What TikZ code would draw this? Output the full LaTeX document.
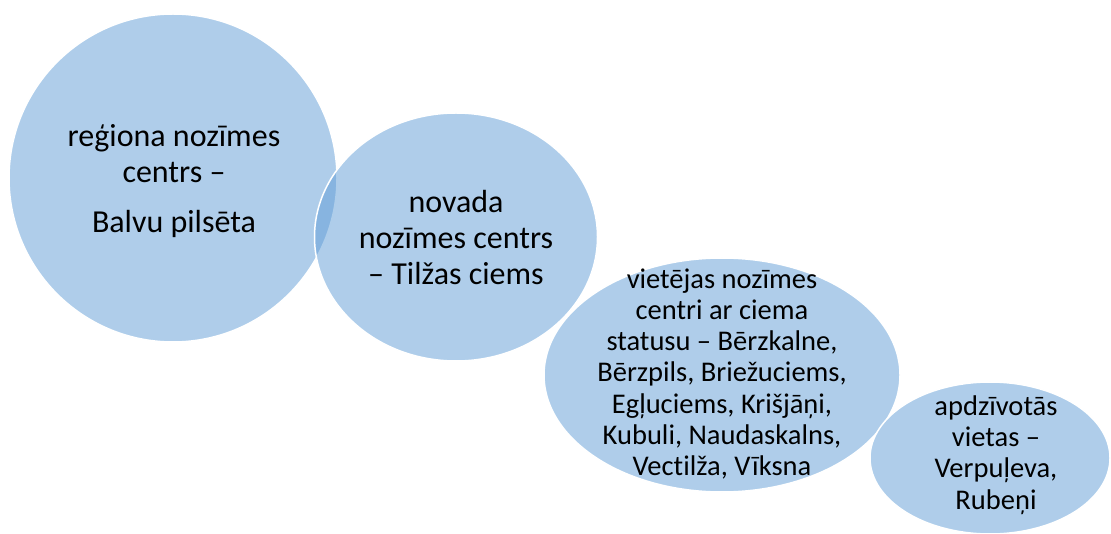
\documentclass[tikz,border=0pt]{standalone}
\usepackage{fontspec}
\setmainfont[Ligatures=NoCommon]{Carlito}
\usetikzlibrary{shapes.geometric}
\definecolor{bubble}{RGB}{95,156,214}
\begin{document}
\begin{tikzpicture}[x=1pt,y=-1pt,
  bub/.style={ellipse, draw=white, line width=1.5pt, fill=bubble, fill opacity=0.5, draw opacity=1, inner sep=0pt},
  lbl/.style={align=center, text=black, inner sep=0pt},
  big/.style={font=\fontsize{32}{36}\selectfont},
  small/.style={font=\fontsize{28.5}{31.2}\selectfont}]
\useasboundingbox (0,0) rectangle (1111,534);
\clip (0,0) rectangle (1111,534);
\node[bub, minimum width=328pt, minimum height=328pt] (c1) at (173,178) {};
\node[bub, minimum width=283pt, minimum height=248pt] (c2) at (456,237) {};
\node[bub, minimum width=356pt, minimum height=234pt] (c3) at (722,375) {};
\node[bub, minimum width=240pt, minimum height=152pt] (c4) at (990,458) {};
\node[lbl, big] (t1) at (174,181) {reģiona nozīmes\\ centrs –\\[14pt] Balvu pilsēta};
\node[lbl, big] (t2) at (456,238) {novada\\ nozīmes centrs\\ – Tilžas ciems};
\node[lbl, small] (t3) at (722,374) {vietējas nozīmes\\ centri ar ciema\\ statusu – Bērzkalne,\\ Bērzpils, Briežuciems,\\ Egļuciems, Krišjāņi,\\ Kubuli, Naudaskalns,\\ Vectilža, Vīksna};
\node[lbl, small] (t4) at (996,455) {apdzīvotās\\ vietas –\\ Verpuļeva,\\ Rubeņi};
\end{tikzpicture}
\end{document}
